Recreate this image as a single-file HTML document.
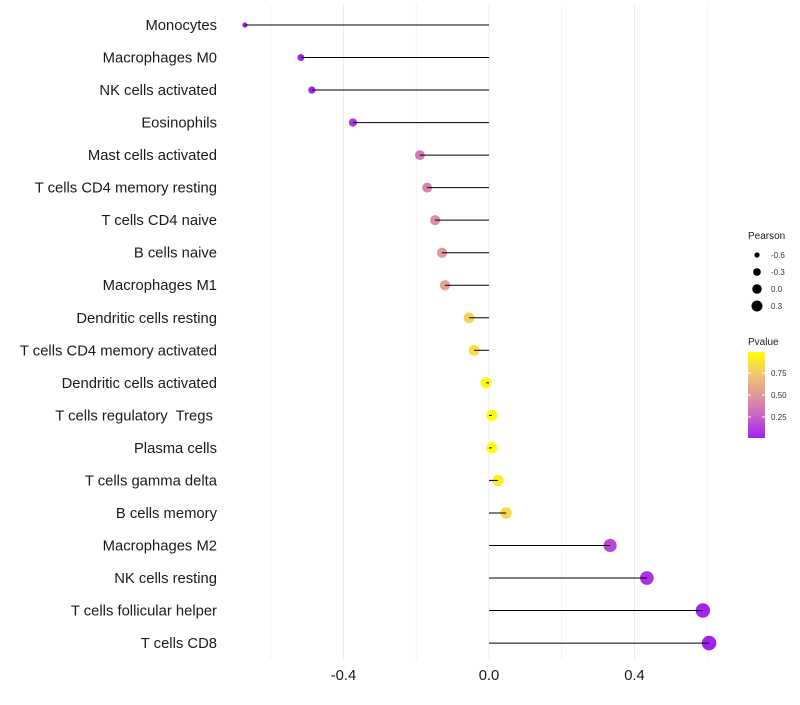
<!DOCTYPE html>
<html><head><meta charset="utf-8"><style>
body{margin:0;background:#fff;font-family:"Liberation Sans",sans-serif}
text{white-space:pre}
</style></head><body>
<svg id="c" width="800" height="700" xmlns="http://www.w3.org/2000/svg" font-family="Liberation Sans, sans-serif"></svg>
<script>
const categories=["Monocytes","Macrophages M0","NK cells activated","Eosinophils","Mast cells activated","T cells CD4 memory resting","T cells CD4 naive","B cells naive","Macrophages M1","Dendritic cells resting","T cells CD4 memory activated","Dendritic cells activated","T cells regulatory  Tregs ","Plasma cells","T cells gamma delta","B cells memory","Macrophages M2","NK cells resting","T cells follicular helper","T cells CD8"];
const pearson=[-0.671,-0.517,-0.487,-0.374,-0.19,-0.17,-0.148,-0.129,-0.121,-0.055,-0.041,-0.008,0.008,0.008,0.025,0.047,0.333,0.434,0.588,0.605];
const pvalues=[0.01,0.02,0.03,0.1,0.35,0.4,0.45,0.5,0.55,0.8,0.85,0.95,0.98,0.98,0.92,0.82,0.15,0.08,0.03,0.02];
const xTicks=[-0.4,0.0,0.4];
const sizeLegend=[-0.6,-0.3,0.0,0.3];
const colorTicks=[0.75,0.50,0.25];
const NS="http://www.w3.org/2000/svg";
const svg=document.getElementById('c');
function mk(t,a,p){const e=document.createElementNS(NS,t);for(const k in a)e.setAttribute(k,a[k]);(p||svg).appendChild(e);return e;}
const x=v=>489+v*363.75;
const y=i=>25+i*32.53;
const r=v=>Math.sqrt(Math.max(2,31+36.3*v));
const stops=[[0,[160,32,240]],[0.25,[200,98,200]],[0.5,[224,152,152]],[0.75,[240,200,112]],[1,[255,255,0]]];
function col(p){for(let i=1;i<stops.length;i++){if(p<=stops[i][0]){const a=stops[i-1],b=stops[i],t=(p-a[0])/(b[0]-a[0]);return 'rgb('+a[1].map((c,j)=>Math.round(c+(b[1][j]-c)*t)).join(',')+')';}}return 'rgb(255,255,0)';}
const pScale=p=>(p-0.01)/(0.99-0.01);
const grid=mk('g',{});
for(let v=-0.6;v<=0.61;v+=0.2){mk('line',{x1:x(v),x2:x(v),y1:5,y2:660,stroke:'#ebebeb','stroke-width':Math.abs(Math.round(v*10))%4===0?1:0.6},grid);}
categories.forEach((c,i)=>{
 const g=mk('g',{});
 
 
 const lab=mk('text',{x:217,y:y(i)+5,'text-anchor':'end','font-size':14.8,fill:'#1a1a1a'},g);lab.textContent=c;
 const pt=mk('circle',{cx:x(pearson[i]),cy:y(i),r:r(pearson[i]),fill:col(pScale(pvalues[i]))},g);
 
 
 const ln=mk('line',{x1:x(0),x2:x(pearson[i]),y1:y(i),y2:y(i),stroke:'#000','stroke-width':1},g);
 
 
});
xTicks.forEach(v=>{const t=mk('text',{x:x(v),y:680,'text-anchor':'middle','font-size':14.8,fill:'#1a1a1a'});t.textContent=v.toFixed(1);
 
 });
const lg=mk('g',{});
mk('text',{x:748,y:239,'font-size':10,fill:'#1a1a1a'},lg).textContent='Pearson';
sizeLegend.forEach((v,i)=>{const cy=255+i*17;mk('circle',{cx:757,cy:cy,r:r(v)*0.85,fill:'#000'},lg);mk('text',{x:771,y:cy+3,'font-size':8,fill:'#333'},lg).textContent=v.toFixed(1);});
const cl=mk('g',{});
mk('text',{x:748,y:345,'font-size':10,fill:'#1a1a1a'},cl).textContent='Pvalue';
const defs=mk('defs',{});const lgd=mk('linearGradient',{id:'pg',x1:0,y1:1,x2:0,y2:0},defs);
stops.forEach(s=>mk('stop',{offset:s[0],'stop-color':'rgb('+s[1].join(',')+')'},lgd));
mk('rect',{x:748,y:352,width:17,height:86,fill:'url(#pg)'},cl);
colorTicks.forEach(v=>{const ty=438-(v-0.01)/0.98*86;mk('line',{x1:748,x2:751,y1:ty,y2:ty,stroke:'#fff'},cl);mk('line',{x1:762,x2:765,y1:ty,y2:ty,stroke:'#fff'},cl);mk('text',{x:771,y:ty+3,'font-size':8,fill:'#333'},cl).textContent=v.toFixed(2);});
</script>
</body></html>
